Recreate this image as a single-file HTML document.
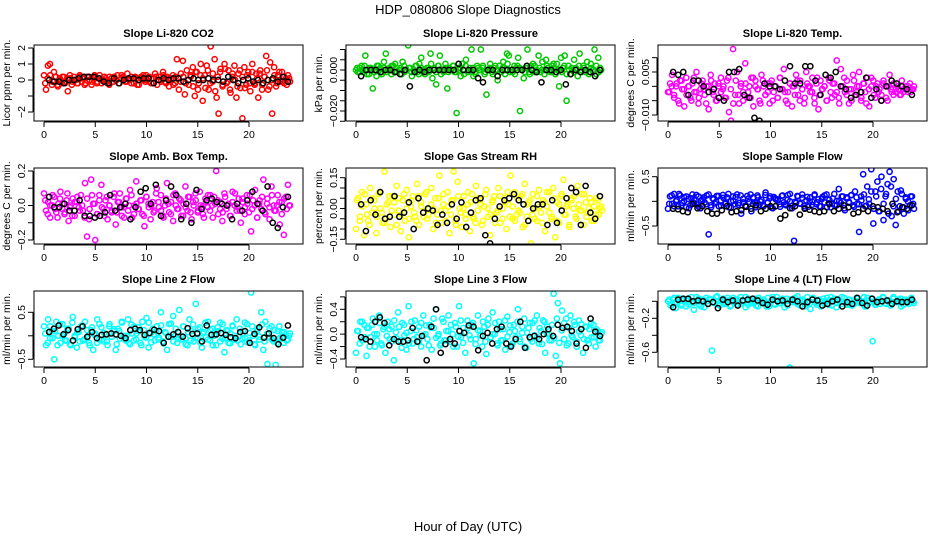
<!DOCTYPE html>
<html><head><meta charset="utf-8"><style>
html,body{margin:0;padding:0;background:#fff;}
svg{display:block;font-family:"Liberation Sans",Arial,sans-serif;}
</style></head><body>
<svg id="fig" width="936" height="540" viewBox="0 0 936 540" xmlns="http://www.w3.org/2000/svg">
<text x="468" y="14" text-anchor="middle" font-size="13">HDP_080806  Slope Diagnostics</text>
<text x="468" y="531" text-anchor="middle" font-size="13">Hour of Day (UTC)</text>
</svg>
<script>
const xTicks = [0,5,10,15,20];
// CO2 (ppm/min)
const co2Vals = [0.3,-0.6,0.9,1.0,-0.3,0.5,0.2,-0.4,0.1,-0.2,0.2,-0.1,-0.7,0.1,-0.3,0.2,0.0,-0.2,0.3,-0.1,0.1,-0.2,0.2,0.0,-0.3,0.1,0.2,-0.1,0.3,-0.2,0.0,0.1,-0.2,0.2,0.1,-0.1,0.0,0.3,-0.2,0.1,0.2,-0.1,0.4,0.0,-0.2,0.1,0.2,-0.3,0.0,0.1,0.3,-0.1,0.0,0.2,-0.2,0.1,0.4,-0.3,0.2,0.0,0.5,-0.1,0.2,-0.4,0.1,0.3,-0.2,1.3,-0.6,0.4,1.2,-0.9,0.6,-0.3,0.2,0.8,-1.0,0.5,-0.2,1.0,-1.3,0.3,0.9,-0.6,2.1,-0.1,1.3,-1.1,-2.1,0.7,-0.4,1.0,-0.2,0.6,-0.8,0.2,0.9,-1.1,0.4,-0.5,-2.4,0.8,-0.3,0.5,-0.7,1.0,-0.2,0.4,-1.1,0.6,-0.3,0.2,1.5,-0.6,1.1,-2.1,0.8,-0.4,0.3,-0.1,0.5,-0.2,0.1,0.3,-0.1];
const co2Core = [-0.2,0.1,0.3,-0.1,0.2,-0.3,0.0,0.2,-0.2,0.1,0.3,-0.1,0.0,-0.2,0.2,0.1,-0.3,0.2,0.0,-0.1,0.3,-0.2,0.1,0.0,0.2,-0.1,-0.3,0.1,0.2,0.0,-0.2,0.3,0.1,-0.1,0.0,0.2,-0.2,0.1,-0.3,0.2,0.0,0.3,-0.1,0.1,-0.2,0.2,0.0,-0.1,0.3,-0.2,0.1,0.0,-0.3,0.2,0.1,-0.1,0.2,-0.2,0.0,0.3,-0.4,0.5,-0.6,0.3,0.1,-0.5,0.6,-0.2,0.4,-0.7,0.2,0.5,-0.3,0.7,-0.1,-0.6,0.4,0.0,-0.4,0.6,0.2,-0.5,0.3,-0.2,0.5,-0.3,0.1,0.4,-0.6,0.2,0.6,-0.4,0.0,0.3,-0.2,0.5,-0.1,0.2,-0.3,0.1];
const co2Avg = [0.0,-0.1,-0.1,-0.2,0.0,0.0,0.1,0.2,0.2,0.2,0.1,-0.1,-0.2,0.1,-0.2,0.0,0.1,0.1,0.0,0.1,0.1,-0.2,0.0,0.1,0.0,0.1,0.1,-0.1,0.0,0.1,0.0,0.0,0.1,0.0,0.0,-0.1,0.2,0.0,-0.2,0.0,0.1,-0.1,0.0,-0.2,0.0,0.1,-0.1,0.2,-0.1];
// Pressure (0.001 kPa/min)
const presVals = [0,-1,1,2,-1,7,0,-2,1,-9,0,-3,2,1,-1,4,8,0,1,-2,2,3,-1,0,1,4,-1,0,12,1,-3,0,2,-1,3,6,0,-2,1,-1,8,-4,1,-7,2,7,0,-1,3,-9,1,0,2,-1,-21,0,1,3,-2,5,-1,1,10,-3,-1,2,0,10,1,-2,-12,0,3,-1,1,0,-5,2,-1,4,-2,8,7,0,-1,2,1,6,-20,0,-4,1,10,-1,2,3,-1,0,7,-1,4,0,5,1,-1,2,3,-2,0,-8,6,1,7,-15,2,-2,0,5,1,-3,8,0,2,-1,4,-1,3,0,10,-2,6,1,-30];
const presCore = [1,-1,0,2,-2,1,0,-1,2,0,-2,1,-1,0,2,-1,1,0,-2,2,0,1,-1,0,2,-2,1,0,-1,1,3,0,-1,2,-2,0,1,-1,0,2,-1,1,-3,0,2,-1,0,1,-2,1,0,2,-1,0,1,-2,2,0,-1,1,0,3,-1,0,-2,2,1,0,-1,1,-2,0,2,-1,1,0,-2,2,0,-1,1,3,0,-1,2,-2,0,1,-1,0,2,-1,1,0,-2,1,0,2,-1,0];
const presAvg = [-3,0,0,0,-1,0,0,-1,-2,0,-8,-1,0,-1,0,0,0,0,0,0,3,0,0,0,-4,-6,0,0,-3,0,0,0,0,0,2,0,-1,-6,0,0,-1,0,-7,-2,0,-1,0,-1,-3,0];
// Li-820 temp (0.001 C/min)
const ltVals = [-2,1,4,-3,0,-5,2,-1,-7,3,0,-4,1,-2,5,-6,-1,2,-3,0,-8,4,-2,1,-5,0,3,-1,-4,2,-9,-12,13,-3,5,-6,1,-2,8,-4,0,3,-7,2,-1,-5,4,0,-3,1,-6,2,-2,0,-4,3,-1,6,-5,-2,1,-7,0,4,-3,2,-1,-6,5,0,-2,3,-4,1,-8,2,-1,0,-5,3,-2,1,-3,9,-4,6,0,-2,2,-6,-1,4,-3,0,5,-5,1,-2,3,-7,0,2,-4,1,-1,-3,2,0,-5,4,-2,1,-1,0,-3,2,-1,0,-2,1,-1,0];
const ltCore = [-2,0,-4,1,-6,2,-1,-3,0,-5,3,-2,-4,1,-1,-6,0,2,-3,-5,1,-2,0,-4,3,-1,-6,2,-3,0,-5,1,-2,-4,3,0,-1,-6,2,-3,-2,1,-5,0,-4,3,-1,-2,-6,1,0,-3,2,-5,-1,-4,1,0,-2,-6,3,-3,-1,0,-5,2,-4,1,-2,-6,0,3,-3,-1,-5,2,-2,0,-4,1,-6,-1,3,-3,0,-2,-5,1,-4,0,-1,-3,-2,-1,-3,-2,-1,0,-2,-1];
const ltAvg = [5,4,5,-3,2,2,0,-2,-1,-4,-5,5,5,6,-3,-4,-11,-12,1,0,0,-1,2,7,1,1,7,7,2,-3,4,3,5,0,-1,-4,-3,-2,3,-4,-1,-5,0,2,1,0,-1,-3];
// Amb box temp (0.01 C/min)
const abVals = [7,-3,2,-7,0,5,-4,1,8,-2,-5,3,-9,0,4,-6,2,-1,6,-3,13,-18,-8,15,1,-20,-5,6,12,-2,3,-8,0,-4,5,-11,2,7,-6,-1,4,-3,9,-7,0,14,-2,3,-5,-12,5,1,-8,2,-3,10,-1,6,-6,0,13,-4,2,-9,7,-2,4,-6,1,11,-3,5,-8,0,3,-4,8,-1,-7,2,6,-3,0,5,20,-5,2,-9,7,-2,1,-6,8,0,-3,4,-10,2,-1,6,-4,-15,3,9,-7,1,-2,15,-5,4,-8,11,0,-3,6,-11,2,-17,5,12,0];
const abCore = [3,-5,0,6,-2,-7,4,1,-4,7,-1,-6,2,5,-3,0,-7,4,-2,6,1,-5,3,-1,-6,5,0,-3,7,-4,2,-1,-7,4,0,6,-5,1,-2,3,-6,5,-1,0,-4,7,2,-3,-7,4,1,-5,6,0,-2,3,-6,-1,5,-4,2,7,-3,0,-5,4,-1,6,-7,1,3,-2,-4,5,0,-6,2,7,-1,-3,4,-5,1,6,-2,0,-7,3,5,-4,1,-1,6,-3,0,2,-5,4,-2,0];
const abAvg = [5,-1,-1,1,-3,-3,3,-6,-6,-7,-6,-4,6,-3,-1,1,-8,-1,8,10,1,12,-6,3,11,6,-8,1,-10,9,-2,3,4,2,1,0,-8,1,-3,3,8,1,-3,11,-10,-13,-1,5];
// Gas stream RH (0.01 %/min)
const rhVals = [-10,5,-4,8,-13,2,-6,10,-2,4,-12,7,0,-7,18,-5,3,-9,6,-3,11,-1,-11,4,-6,9,-14,1,6,-4,12,-8,3,-2,7,-5,0,10,-10,5,-3,16,-7,2,-1,8,-12,4,18,-6,13,0,-9,6,-3,2,-11,7,-5,11,-1,4,-8,1,9,-4,-13,3,6,-2,10,-7,0,5,-10,2,16,-5,8,-3,-1,6,-9,12,-4,3,-17,7,0,-6,9,-2,4,-11,1,8,-5,10,-14,3,-7,6,14,-3,2,-9,5,0,-4,11,-1,7,-8,3,-2,5,-6,1,-3,4,0,-1];
const rhCore = [4,-6,1,7,-3,-8,5,0,-4,8,-2,-7,2,6,-1,3,-8,5,-3,7,0,-5,4,-2,-6,6,1,-4,8,-3,2,0,-7,5,-1,7,-6,1,-3,4,-8,6,-2,0,-5,8,3,-4,-7,5,2,-6,7,0,-3,4,-7,-1,6,-5,3,8,-4,1,-6,5,-2,7,-8,2,4,-3,-5,6,1,-7,3,8,-2,-4,5,-6,2,7,-3,1,-8,4,6,-5,2,-1,7,-4,0,3,-6,5,-3,1];
const rhAvg = [2,-11,4,-3,8,-5,-4,6,-4,-2,3,-10,5,-2,0,-1,-8,-3,-7,2,-5,3,-9,-2,4,5,-13,-17,-5,1,4,5,7,4,2,-6,0,2,2,-8,4,-7,-1,5,10,8,-8,11,-2,-5,6];
// Sample flow (0.01 ml/min per min)
const sfVals = [-15,10,-5,15,0,-10,12,-3,8,-12,5,-8,14,2,-6,10,-14,4,-2,12,-67,-8,6,-4,11,-10,2,13,-5,8,-12,0,10,-6,14,-3,-25,5,-9,11,-1,-20,8,-4,12,-7,3,-10,18,-2,6,-13,9,4,4,-6,11,-2,-8,13,0,-14,-80,-3,10,-5,14,-9,2,-11,8,-1,12,-6,4,-10,9,-2,14,-4,-12,6,-7,1,25,-3,10,-18,8,-1,12,-8,20,-5,-62,10,55,-10,30,-5,65,-45,20,40,-20,50,-38,10,35,60,-30,45,-48,20,-10,15,-25,5,0,-8,10,-15];
const sfCore = [-5,12,-10,3,15,-8,0,10,-14,6,-3,13,-11,2,8,-6,14,-12,4,-1,11,-9,7,-4,15,-13,1,9,-7,12,-2,-10,5,14,-5,-12,8,0,-8,13,-3,10,-14,6,2,-11,12,-6,3,15,-9,-1,11,-4,7,-13,9,0,-7,14,-2,-10,5,12,-12,3,-5,15,-8,1,10,-14,6,-3,13,-11,8,-6,2,14,-9,4,20,-15,10,-20,25,-5,15,-25,30,-10,5,-20,22,-12,8,-18,10,-5];
const sfAvg = [-15,-16,-20,-22,-5,-14,-10,-20,-25,-25,-18,-10,-22,-20,-18,-11,-15,-8,-20,-15,-10,-10,-35,-28,-14,-10,-27,-15,-17,-20,-22,-20,-5,-20,-15,-8,-12,-25,-22,-15,-20,-10,-12,-15,-20,-5,-22,-12,-15,-8];
// Line 2 flow (0.01)
const l2Vals = [20,-20,35,-5,10,-50,30,0,-15,25,5,-10,15,-20,40,0,-25,8,20,-10,30,-5,-15,12,-30,5,35,-8,18,-12,3,-20,25,-2,10,-30,15,-6,28,0,-10,35,-18,5,20,-8,10,-15,30,-2,38,-25,5,15,-10,20,-4,50,-12,8,-30,25,-3,42,0,-15,55,-8,20,-5,-20,35,10,-12,68,-5,18,-25,8,-3,30,-10,15,0,-20,10,28,-6,-35,12,-15,5,20,-8,35,-2,-18,10,-5,25,-10,92,0,-20,15,-8,50,-30,30,-60,-3,20,-12,-62,10,-5,8,-15,3,-8,5];
const l2Core = [5,-15,20,-5,10,-20,25,0,-10,15,-18,28,-3,8,-12,22,-7,12,-20,18,2,-15,25,-8,6,-12,20,-2,14,-18,10,30,-6,0,-15,24,-10,5,18,-20,12,-4,28,-14,3,10,-8,22,-16,6,-2,26,-12,15,-6,0,20,-18,8,-10,24,-4,14,-15,5,28,-8,12,-20,2,18,-12,25,-5,10,-16,22,0,-10,15,-6,28,-14,6,20,-18,10,-2,24,-12,4,16,-8,12,-15,20,-5,8,-10,0];
const l2Avg = [8,15,22,3,12,-10,14,20,-2,8,-5,2,3,5,3,0,-5,12,15,12,2,6,13,10,-15,-2,3,8,-2,16,4,5,-12,22,2,3,6,2,-3,-5,8,10,-15,4,18,-4,5,-5,-18,-4,22];
// Line 3 flow (0.01)
const l3Vals = [-30,5,20,-10,15,-35,10,-5,25,-20,0,30,-15,8,-30,20,-8,12,-42,3,35,-10,18,-2,-25,45,5,-15,22,-5,12,-20,30,0,-8,15,-25,10,40,-3,-18,25,-10,5,30,-12,0,18,-20,45,-5,10,-30,22,-2,15,-47,-8,30,5,-20,12,-32,25,-5,35,0,-15,20,-10,8,-25,28,3,-18,15,-5,40,-12,2,25,-22,10,-8,18,-2,30,-15,5,22,-30,12,0,-10,65,-35,50,-47,38,-8,25,-15,30,-5,15,-20,22,-2,-30,12,-10,8,-5,15,-20,5,-10,3];
const l3Core = [5,-15,20,-5,10,-20,15,0,-10,18,-18,12,-3,8,-12,22,-7,12,-22,15,2,-15,20,-8,6,-12,18,-2,14,-18,10,25,-6,0,-15,20,-10,5,15,-20,12,-4,22,-14,3,10,-8,18,-16,6,-2,20,-12,15,-6,0,18,-18,8,-10,22,-4,14,-15,5,20,-8,12,-20,2,18,-12,22,-5,10,-16,20,0,-10,15,-6,25,-14,6,18,-18,10,-2,20,-12,4,16,-8,12,-15,18,-5,8,-10,0];
const l3Avg = [-5,-8,-12,20,27,18,-18,-8,-12,-12,-10,10,-12,-3,-42,12,40,-30,-16,-8,-15,5,2,14,12,-26,-3,2,-15,8,12,-15,-20,-8,20,-22,-5,-3,-8,0,8,-3,15,10,12,5,-15,8,-22,25,4,-3];
// Line 4 flow (0.01)
const l4Vals = [0,-5,2,-8,4,-3,1,-6,3,-1,-10,5,-4,2,-7,0,3,-58,-2,6,-5,1,-3,4,-6,0,2,-4,5,-1,-7,3,-2,0,-5,4,-1,2,-6,-6,1,-3,5,-2,0,-7,3,-78,1,-1,6,-5,2,-3,0,-9,4,-2,1,-6,3,-1,-4,5,0,-7,2,-3,4,-1,-4,-5,1,3,-2,0,-6,4,-1,-47,-4,1,-3,5,-2,0,-5,3,-1,2,-6,1,0,-3,4,-2];
const l4Core = [2,-3,4,-1,0,-5,3,1,-4,5,-2,0,3,-6,1,4,-3,2,-1,5,-4,0,3,-2,1,-5,4,-1,2,-3,0,5,-4,1,-2,3,-6,2,0,-3,4,-1,5,-4,1,-2,3,0,-5,2,-1,4,-3,1,0,-6,5,-2,3,-1,-4,2,0,-3,4,1,-5,3,-2,0,5,-1,-4,2,1,-3,4,0,-2,5,-6,1,3,-1,-4,2,0,4,-3,1,-2,5,-1,0,3,-4,2,-1,1,0];
const l4Avg = [-7,2,3,3,0,1,0,-3,-1,-8,2,-1,1,-5,1,2,3,1,-2,-4,2,0,1,-3,2,0,-6,-1,2,1,-5,-3,0,2,-6,-1,-3,4,-2,-5,3,-1,0,1,-3,0,-1,-1,2];

const panels = [
 {name:'co2',title:'Slope Li-820 CO2',ylab:'Licor ppm per min.',col:0,row:0,color:'#ff0000',vals:co2Vals,core:co2Core,avg:co2Avg,
  y1:2,p1:48,y2:-2,p2:112,ticks:[-2,-1,0,1,2],labels:{'-2':'\u22122','0':'0','1':'1','2':'2'}},
 {name:'pressure',title:'Slope Li-820 Pressure',ylab:'kPa per min.',col:1,row:0,color:'#00c800',vals:presVals,core:presCore,avg:presAvg,
  y1:0,p1:70,y2:-20,p2:111,ticks:[-30,-25,-20,-15,-10,-5,0,5,10],labels:{'0':'0.000','-20':'\u22120.020'}},
 {name:'li820-temp',title:'Slope Li-820 Temp.',ylab:'degrees C per min.',col:2,row:0,color:'#ff00ff',vals:ltVals,core:ltCore,avg:ltAvg,
  y1:5,p1:72,y2:-10,p2:115,ticks:[-10,-5,0,5,10],labels:{'5':'0.005','-10':'\u22120.010'}},
 {name:'amb-box-temp',title:'Slope Amb. Box Temp.',ylab:'degrees C per min.',col:0,row:1,color:'#ff00ff',vals:abVals,core:abCore,avg:abAvg,
  y1:20,p1:171,y2:-20,p2:240,ticks:[-20,-10,0,10,20],labels:{'20':'0.2','0':'0.0','-20':'\u22120.2'}},
 {name:'gas-rh',title:'Slope Gas Stream RH',ylab:'percent per min.',col:1,row:1,color:'#ffff00',vals:rhVals,core:rhCore,avg:rhAvg,
  y1:15,p1:177.7,y2:-15,p2:239.3,ticks:[-15,-10,-5,0,5,10,15],labels:{'15':'0.15','0':'0.00','-15':'\u22120.15'}},
 {name:'sample-flow',title:'Slope Sample Flow',ylab:'ml/min per min.',col:2,row:1,color:'#0000ff',vals:sfVals,core:sfCore,avg:sfAvg,
  y1:50,p1:176.7,y2:-50,p2:226,ticks:[-50,0,50],labels:{'50':'0.5','-50':'\u22120.5'}},
 {name:'line2-flow',title:'Slope Line 2 Flow',ylab:'ml/min per min.',col:0,row:2,color:'#00ffff',vals:l2Vals,core:l2Core,avg:l2Avg,
  y1:50,p1:312.3,y2:-50,p2:359.3,ticks:[-50,0,50],labels:{'50':'0.5','-50':'\u22120.5'}},
 {name:'line3-flow',title:'Slope Line 3 Flow',ylab:'ml/min per min.',col:1,row:2,color:'#00ffff',vals:l3Vals,core:l3Core,avg:l3Avg,
  y1:40,p1:309.3,y2:-40,p2:359,ticks:[-40,-20,0,20,40,60],labels:{'40':'0.4','0':'0.0','-40':'\u22120.4'}},
 {name:'line4-flow',title:'Slope Line 4 (LT) Flow',ylab:'ml/min per min.',col:2,row:2,color:'#00ffff',vals:l4Vals,core:l4Core,avg:l4Avg,
  y1:-20,p1:318.3,y2:-60,p2:352.3,ticks:[-60,-40,-20,0],labels:{'-20':'\u22120.2','-60':'\u22120.6'}}
];
const colLeft=[34,346,658], rowTop=[45,168,291], boxW=269, boxH=76;
const svg=document.getElementById('fig');
const NS='http://www.w3.org/2000/svg';
function mk(tag,attrs,parent){const e=document.createElementNS(NS,tag);for(const k in attrs)e.setAttribute(k,attrs[k]);(parent||svg).appendChild(e);return e;}
panels.forEach(p=>{
  const L=colLeft[p.col], T=rowTop[p.row];
  const xs=h=>L+10+h*10.25;
  const ys=v=>p.p1+(v-p.y1)*(p.p2-p.p1)/(p.y2-p.y1);
  const g=mk('g',{});
  
  
  const t=mk('text',{x:L+boxW/2,y:T-8,'text-anchor':'middle','font-size':'11','font-weight':'bold'},g);
  t.textContent=p.title;
  
  
  const yl=mk('text',{x:0,y:0,'text-anchor':'middle','font-size':'10.5',transform:`translate(${L-24},${T+boxH/2}) rotate(-90)`},g);
  yl.textContent=p.ylab;
  
  
  const cid='clip-'+p.name;
  const cp=mk('clipPath',{id:cid},g); mk('rect',{x:L,y:T,width:boxW,height:boxH},cp);
  const pts=mk('g',{'clip-path':`url(#${cid})`,fill:'none','stroke-width':'1.5'},g);
  
  
  const k=p.core.length;
  p.core.forEach((v,i)=>{
    const c=mk('circle',{cx:xs(0.12+i*23.8/(k-1)),cy:ys(v),r:2.6,stroke:p.color},pts);
    
    
  });
  const n=p.vals.length;
  p.vals.forEach((v,i)=>{
    const c=mk('circle',{cx:xs(i*24/(n-1)),cy:ys(v),r:2.6,stroke:p.color},pts);
    
    
  });
  const m=p.avg.length;
  p.avg.forEach((v,i)=>{
    const c=mk('circle',{cx:xs(0.5+i*23.3/(m-1)),cy:ys(v),r:2.6,stroke:'#000'},pts);
    
    
  });
  const box=mk('rect',{x:L,y:T,width:boxW,height:boxH,fill:'none',stroke:'#000','stroke-width':'1'},g);
  
  
  xTicks.forEach(h=>{
    const x=xs(h);
    mk('line',{x1:x,x2:x,y1:T+boxH+1,y2:T+boxH+6,stroke:'#000'},g);
    const tl=mk('text',{x:x,y:T+boxH+17,'text-anchor':'middle','font-size':'10.5'},g);
    tl.textContent=String(h);
    
    
  });
  mk('line',{x1:xs(0),x2:xs(20),y1:T+boxH+1,y2:T+boxH+1,stroke:'#000'},g);
  const ty=p.ticks.map(ys).filter(y=>y>=T-3&&y<=T+boxH+3);
  p.ticks.forEach(v=>{
    const y=ys(v); if(y<T-3||y>T+boxH+3) return;
    mk('line',{x1:L-6,x2:L-1,y1:y,y2:y,stroke:'#000'},g);
    const lab=p.labels[String(v)];
    if(lab){
      const tl=mk('text',{x:0,y:0,'text-anchor':'middle','font-size':'10.5',transform:`translate(${L-9},${y}) rotate(-90)`},g);
      tl.textContent=lab;
      
      
    }
  });
  mk('line',{x1:L-1,x2:L-1,y1:Math.min(...ty),y2:Math.max(...ty),stroke:'#000'},g);
});
</script>
</body></html>
